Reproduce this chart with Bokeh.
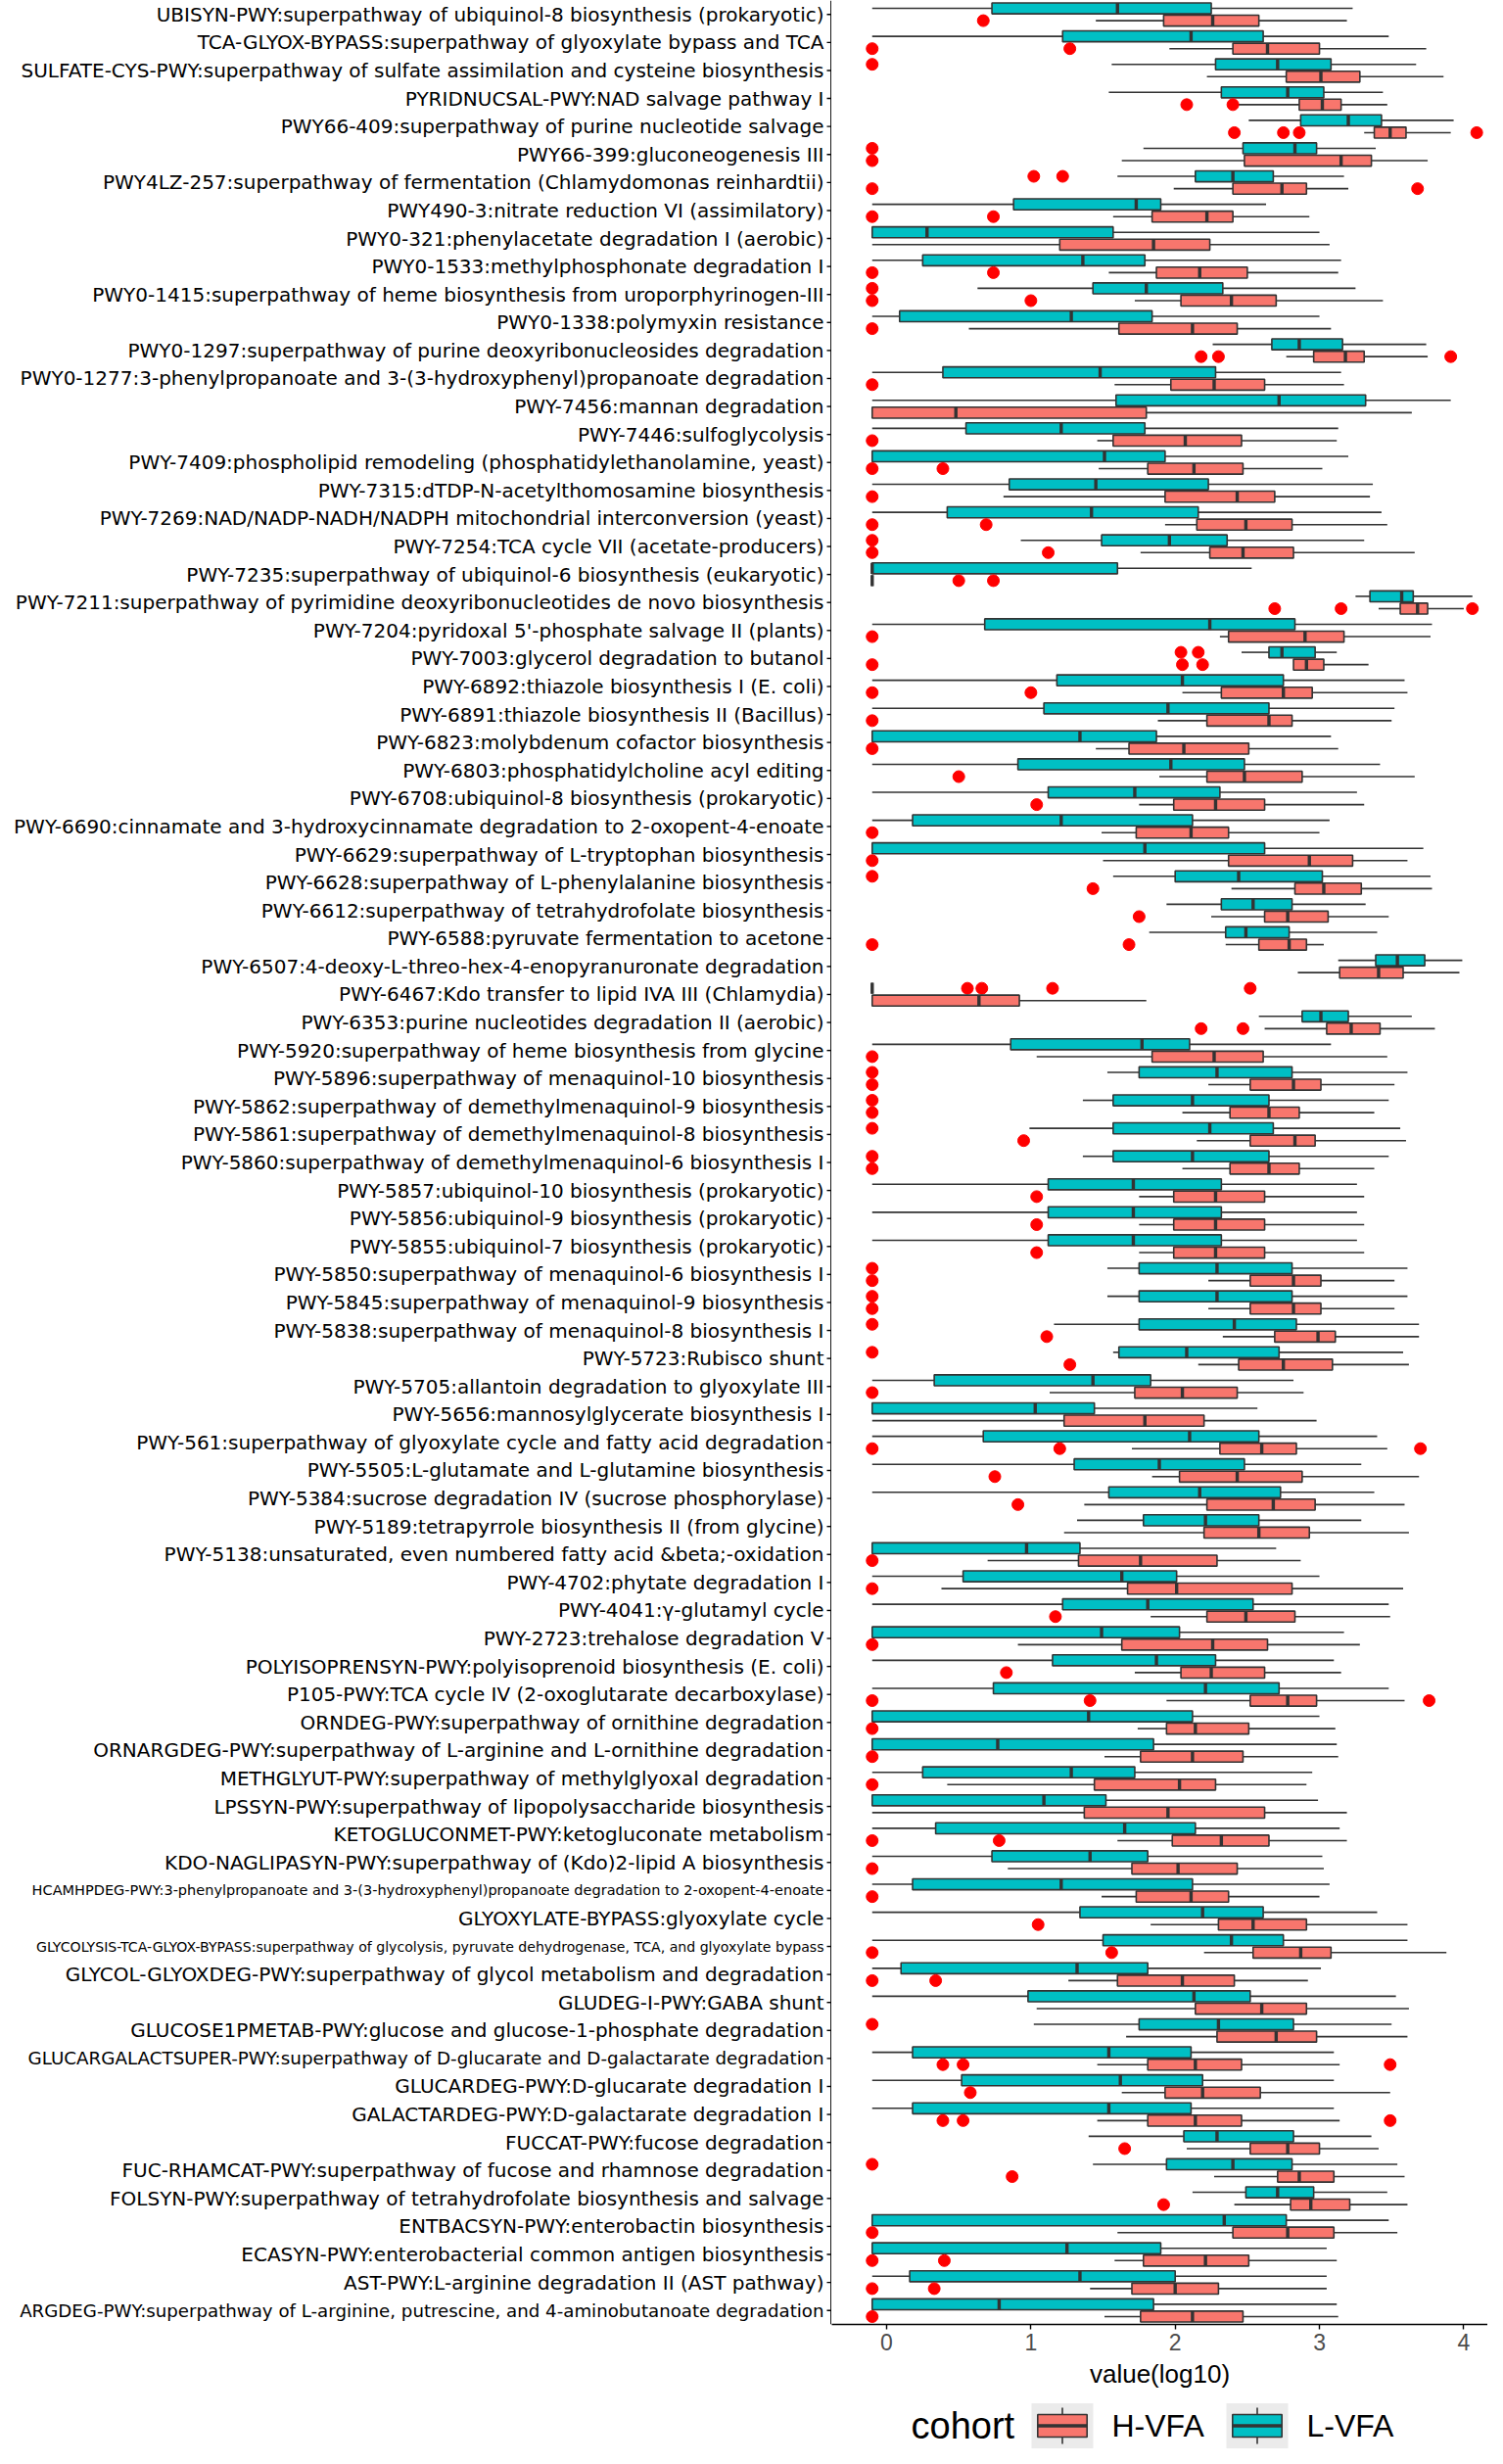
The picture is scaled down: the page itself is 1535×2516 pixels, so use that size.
from bokeh.plotting import figure
from bokeh.models import FactorRange, Range1d, ColumnDataSource, FixedTicker, Span
from bokeh.transform import dodge
from bokeh.layouts import row, column
from bokeh.core.properties import value
from bokeh.embed import file_html
from bokeh.resources import INLINE

# ---------------- data (top to bottom as displayed) ----------------
pathways = [
    "UBISYN-PWY:superpathway of ubiquinol-8 biosynthesis (prokaryotic)",
    "TCA-GLYOX-BYPASS:superpathway of glyoxylate bypass and TCA",
    "SULFATE-CYS-PWY:superpathway of sulfate assimilation and cysteine biosynthesis",
    "PYRIDNUCSAL-PWY:NAD salvage pathway I",
    "PWY66-409:superpathway of purine nucleotide salvage",
    "PWY66-399:gluconeogenesis III",
    "PWY4LZ-257:superpathway of fermentation (Chlamydomonas reinhardtii)",
    "PWY490-3:nitrate reduction VI (assimilatory)",
    "PWY0-321:phenylacetate degradation I (aerobic)",
    "PWY0-1533:methylphosphonate degradation I",
    "PWY0-1415:superpathway of heme biosynthesis from uroporphyrinogen-III",
    "PWY0-1338:polymyxin resistance",
    "PWY0-1297:superpathway of purine deoxyribonucleosides degradation",
    "PWY0-1277:3-phenylpropanoate and 3-(3-hydroxyphenyl)propanoate degradation",
    "PWY-7456:mannan degradation",
    "PWY-7446:sulfoglycolysis",
    "PWY-7409:phospholipid remodeling (phosphatidylethanolamine, yeast)",
    "PWY-7315:dTDP-N-acetylthomosamine biosynthesis",
    "PWY-7269:NAD/NADP-NADH/NADPH mitochondrial interconversion (yeast)",
    "PWY-7254:TCA cycle VII (acetate-producers)",
    "PWY-7235:superpathway of ubiquinol-6 biosynthesis (eukaryotic)",
    "PWY-7211:superpathway of pyrimidine deoxyribonucleotides de novo biosynthesis",
    "PWY-7204:pyridoxal 5'-phosphate salvage II (plants)",
    "PWY-7003:glycerol degradation to butanol",
    "PWY-6892:thiazole biosynthesis I (E. coli)",
    "PWY-6891:thiazole biosynthesis II (Bacillus)",
    "PWY-6823:molybdenum cofactor biosynthesis",
    "PWY-6803:phosphatidylcholine acyl editing",
    "PWY-6708:ubiquinol-8 biosynthesis (prokaryotic)",
    "PWY-6690:cinnamate and 3-hydroxycinnamate degradation to 2-oxopent-4-enoate",
    "PWY-6629:superpathway of L-tryptophan biosynthesis",
    "PWY-6628:superpathway of L-phenylalanine biosynthesis",
    "PWY-6612:superpathway of tetrahydrofolate biosynthesis",
    "PWY-6588:pyruvate fermentation to acetone",
    "PWY-6507:4-deoxy-L-threo-hex-4-enopyranuronate degradation",
    "PWY-6467:Kdo transfer to lipid IVA III (Chlamydia)",
    "PWY-6353:purine nucleotides degradation II (aerobic)",
    "PWY-5920:superpathway of heme biosynthesis from glycine",
    "PWY-5896:superpathway of menaquinol-10 biosynthesis",
    "PWY-5862:superpathway of demethylmenaquinol-9 biosynthesis",
    "PWY-5861:superpathway of demethylmenaquinol-8 biosynthesis",
    "PWY-5860:superpathway of demethylmenaquinol-6 biosynthesis I",
    "PWY-5857:ubiquinol-10 biosynthesis (prokaryotic)",
    "PWY-5856:ubiquinol-9 biosynthesis (prokaryotic)",
    "PWY-5855:ubiquinol-7 biosynthesis (prokaryotic)",
    "PWY-5850:superpathway of menaquinol-6 biosynthesis I",
    "PWY-5845:superpathway of menaquinol-9 biosynthesis",
    "PWY-5838:superpathway of menaquinol-8 biosynthesis I",
    "PWY-5723:Rubisco shunt",
    "PWY-5705:allantoin degradation to glyoxylate III",
    "PWY-5656:mannosylglycerate biosynthesis I",
    "PWY-561:superpathway of glyoxylate cycle and fatty acid degradation",
    "PWY-5505:L-glutamate and L-glutamine biosynthesis",
    "PWY-5384:sucrose degradation IV (sucrose phosphorylase)",
    "PWY-5189:tetrapyrrole biosynthesis II (from glycine)",
    "PWY-5138:unsaturated, even numbered fatty acid &beta;-oxidation",
    "PWY-4702:phytate degradation I",
    "PWY-4041:\u03b3-glutamyl cycle",
    "PWY-2723:trehalose degradation V",
    "POLYISOPRENSYN-PWY:polyisoprenoid biosynthesis (E. coli)",
    "P105-PWY:TCA cycle IV (2-oxoglutarate decarboxylase)",
    "ORNDEG-PWY:superpathway of ornithine degradation",
    "ORNARGDEG-PWY:superpathway of L-arginine and L-ornithine degradation",
    "METHGLYUT-PWY:superpathway of methylglyoxal degradation",
    "LPSSYN-PWY:superpathway of lipopolysaccharide biosynthesis",
    "KETOGLUCONMET-PWY:ketogluconate metabolism",
    "KDO-NAGLIPASYN-PWY:superpathway of (Kdo)2-lipid A biosynthesis",
    "HCAMHPDEG-PWY:3-phenylpropanoate and 3-(3-hydroxyphenyl)propanoate degradation to 2-oxopent-4-enoate",
    "GLYOXYLATE-BYPASS:glyoxylate cycle",
    "GLYCOLYSIS-TCA-GLYOX-BYPASS:superpathway of glycolysis, pyruvate dehydrogenase, TCA, and glyoxylate bypass",
    "GLYCOL-GLYOXDEG-PWY:superpathway of glycol metabolism and degradation",
    "GLUDEG-I-PWY:GABA shunt",
    "GLUCOSE1PMETAB-PWY:glucose and glucose-1-phosphate degradation",
    "GLUCARGALACTSUPER-PWY:superpathway of D-glucarate and D-galactarate degradation",
    "GLUCARDEG-PWY:D-glucarate degradation I",
    "GALACTARDEG-PWY:D-galactarate degradation I",
    "FUCCAT-PWY:fucose degradation",
    "FUC-RHAMCAT-PWY:superpathway of fucose and rhamnose degradation",
    "FOLSYN-PWY:superpathway of tetrahydrofolate biosynthesis and salvage",
    "ENTBACSYN-PWY:enterobactin biosynthesis",
    "ECASYN-PWY:enterobacterial common antigen biosynthesis",
    "AST-PWY:L-arginine degradation II (AST pathway)",
    "ARGDEG-PWY:superpathway of L-arginine, putrescine, and 4-aminobutanoate degradation",
]

groups = ["H-VFA", "L-VFA"]

# L-VFA (teal)
l_lo = [-0.1, -0.1, 1.56, 1.54, 2.51, 1.78, 1.60, -0.1, -0.1, -0.1,
        0.63, -0.1, 2.26, -0.1, -0.1, -0.1, -0.1, -0.1, -0.1, 0.93,
        -0.1, 3.25, -0.1, 2.46, -0.1, -0.1, -0.1, -0.1, -0.1, -0.1,
        -0.1, 1.57, 1.94, 1.82, 3.13, -0.1, 2.58, -0.1, 1.53, 1.36,
        0.99, 1.36, -0.1, -0.1, -0.1, 1.53, 1.53, 1.16, 1.57, -0.1,
        -0.1, -0.1, -0.1, -0.1, 1.32, -0.1, -0.1, -0.1, -0.1, -0.1,
        -0.1, -0.1, -0.1, -0.1, -0.1, -0.1, -0.1, -0.1, -0.1, -0.1,
        -0.1, -0.1, 1.02, -0.1, -0.1, -0.1, 1.40, 1.43, 2.12, -0.1,
        -0.1, -0.1, -0.1]
l_q1 = [0.73, 1.22, 2.28, 2.32, 2.87, 2.47, 2.14, 0.88, -0.1, 0.25,
        1.43, 0.09, 2.67, 0.39, 1.59, 0.55, -0.1, 0.85, 0.42, 1.49,
        -0.1, 3.35, 0.68, 2.65, 1.18, 1.09, -0.1, 0.91, 1.12, 0.18,
        -0.1, 2.00, 2.32, 2.35, 3.39, -0.1, 2.88, 0.86, 1.75, 1.57,
        1.57, 1.57, 1.12, 1.12, 1.12, 1.75, 1.75, 1.75, 1.61, 0.33,
        -0.1, 0.67, 1.30, 1.54, 1.78, -0.1, 0.53, 1.22, -0.1, 1.15,
        0.74, -0.1, -0.1, 0.25, -0.1, 0.34, 0.73, 0.18, 1.34, 1.50,
        0.10, 0.98, 1.75, 0.18, 0.52, 0.18, 2.06, 1.94, 2.49, -0.1,
        -0.1, 0.16, -0.1]
l_med = [1.60, 2.11, 2.71, 2.78, 3.20, 2.83, 2.40, 1.73, 0.28, 1.36,
         1.80, 1.28, 2.86, 1.48, 2.72, 1.21, 1.51, 1.45, 1.42, 1.96,
         -0.1, 3.57, 2.24, 2.74, 2.05, 1.95, 1.34, 1.97, 1.72, 1.21,
         1.79, 2.44, 2.54, 2.49, 3.54, -0.1, 3.01, 1.77, 2.29, 2.12,
         2.24, 2.12, 1.71, 1.71, 1.71, 2.29, 2.29, 2.41, 2.08, 1.43,
         1.03, 2.10, 1.89, 2.17, 2.21, 0.97, 1.63, 1.81, 1.49, 1.87,
         2.21, 1.40, 0.77, 1.28, 1.09, 1.65, 1.41, 1.21, 2.19, 2.39,
         1.32, 2.13, 2.30, 1.54, 1.62, 1.54, 2.29, 2.40, 2.71, 2.34,
         1.25, 1.34, 0.78]
l_q3 = [2.25, 2.61, 3.08, 3.03, 3.43, 2.98, 2.68, 1.90, 1.57, 1.79,
        2.33, 1.84, 3.16, 2.28, 3.32, 1.79, 1.93, 2.23, 2.16, 2.36,
        1.60, 3.65, 2.83, 2.97, 2.75, 2.65, 1.87, 2.48, 2.31, 2.12,
        2.62, 3.02, 2.81, 2.79, 3.73, -0.1, 3.20, 2.10, 2.81, 2.65,
        2.68, 2.65, 2.32, 2.32, 2.32, 2.81, 2.81, 2.84, 2.72, 1.83,
        1.44, 2.58, 2.48, 2.73, 2.58, 1.34, 2.01, 2.54, 2.03, 2.28,
        2.72, 2.12, 1.85, 1.72, 1.52, 2.14, 1.81, 2.12, 2.61, 2.75,
        1.81, 2.52, 2.82, 2.11, 2.19, 2.11, 2.82, 2.81, 2.96, 2.77,
        1.90, 2.00, 1.85]
l_hi = [3.23, 3.48, 3.67, 3.44, 3.93, 3.39, 3.17, 2.63, 3.00, 3.15,
        3.25, 3.00, 3.74, 3.15, 3.91, 3.13, 3.20, 3.37, 3.43, 3.31,
        2.53, 4.06, 3.78, 3.12, 3.59, 3.52, 3.08, 3.42, 3.26, 3.07,
        3.72, 3.77, 3.32, 3.40, 3.99, -0.1, 3.64, 3.08, 3.61, 3.48,
        3.56, 3.48, 3.26, 3.26, 3.26, 3.61, 3.61, 3.69, 3.58, 2.82,
        2.57, 3.40, 3.29, 3.38, 3.29, 2.70, 3.00, 3.48, 3.17, 3.10,
        3.48, 3.00, 3.12, 2.95, 2.99, 3.14, 3.02, 3.07, 3.40, 3.61,
        3.01, 3.53, 3.50, 3.10, 3.10, 3.10, 3.36, 3.54, 3.47, 3.48,
        3.05, 3.05, 3.12]
l_out = [[], [], [-0.1], [], [], [-0.1], [1.02, 1.22], [], [], [],
         [-0.1], [], [], [], [], [], [], [], [], [-0.1],
         [], [], [], [2.04, 2.16], [], [], [], [], [], [],
         [], [-0.1], [], [], [], [0.56, 0.66, 1.15, 2.52], [], [], [-0.1], [-0.1],
         [-0.1], [-0.1], [], [], [], [-0.1], [-0.1], [-0.1], [-0.1], [],
         [], [], [], [], [], [], [], [], [], [],
         [], [], [], [], [], [], [], [], [], [],
         [], [], [-0.1], [], [], [], [], [-0.1], [], [],
         [], [], []]

# H-VFA (salmon)
h_lo = [1.45, 1.96, 2.22, 2.44, 3.31, 1.63, 1.99, 1.57, -0.1, 1.54,
        1.72, 0.57, 2.77, 1.58, -0.1, 1.46, 1.47, 0.81, 1.93, 1.76,
        -0.1, 3.41, 2.31, 2.82, 2.05, 1.88, 1.45, 1.89, 1.75, 1.49,
        1.50, 2.39, 2.25, 2.35, 2.85, -0.1, 2.62, 1.04, 2.23, 2.05,
        2.15, 2.05, 1.75, 1.75, 1.75, 2.23, 2.23, 2.33, 2.16, 1.13,
        -0.1, 1.70, 1.84, 1.37, 1.23, 0.70, 0.38, 1.83, 0.91, 1.72,
        1.94, 1.74, 1.51, 0.42, -0.1, 1.60, 0.84, 1.49, 1.83, 2.20,
        1.26, 1.04, 1.66, 1.46, 1.63, 1.46, 2.08, 2.27, 2.41, 1.60,
        1.58, 1.41, 1.51]
h_q1 = [1.92, 2.40, 2.77, 2.86, 3.38, 2.48, 2.40, 1.84, 1.20, 1.87,
        2.04, 1.61, 2.96, 1.97, -0.1, 1.57, 1.81, 1.93, 2.15, 2.24,
        -0.1, 3.56, 2.37, 2.82, 2.32, 2.22, 1.68, 2.22, 1.99, 1.73,
        2.37, 2.83, 2.62, 2.58, 3.14, -0.1, 3.05, 1.84, 2.52, 2.38,
        2.52, 2.38, 1.99, 1.99, 1.99, 2.52, 2.52, 2.69, 2.44, 1.72,
        1.23, 2.31, 2.03, 2.22, 2.20, 1.33, 1.67, 2.22, 1.63, 2.04,
        2.52, 1.94, 1.76, 1.44, 1.37, 1.98, 1.70, 1.73, 2.30, 2.54,
        1.60, 2.14, 2.29, 1.81, 1.93, 1.81, 2.52, 2.71, 2.80, 2.40,
        1.78, 1.70, 1.76]
h_med = [2.26, 2.64, 3.01, 3.02, 3.49, 3.15, 2.74, 2.22, 1.85, 2.17,
         2.39, 2.12, 3.18, 2.27, 0.48, 2.07, 2.13, 2.43, 2.49, 2.47,
         -0.1, 3.68, 2.90, 2.91, 2.75, 2.65, 2.06, 2.48, 2.28, 2.11,
         2.93, 3.03, 2.78, 2.79, 3.41, 0.64, 3.22, 2.27, 2.82, 2.65,
         2.83, 2.65, 2.28, 2.28, 2.28, 2.82, 2.82, 2.99, 2.75, 2.05,
         1.79, 2.60, 2.43, 2.68, 2.58, 1.76, 2.01, 2.49, 2.26, 2.25,
         2.78, 2.14, 2.12, 2.03, 1.95, 2.32, 2.02, 2.11, 2.54, 2.87,
         2.05, 2.60, 2.70, 2.14, 2.19, 2.14, 2.78, 2.86, 2.94, 2.78,
         2.21, 2.00, 2.12]
h_q3 = [2.58, 3.00, 3.28, 3.15, 3.60, 3.36, 2.91, 2.40, 2.24, 2.50,
        2.70, 2.43, 3.31, 2.62, 1.80, 2.46, 2.47, 2.69, 2.81, 2.82,
        -0.1, 3.75, 3.17, 3.03, 2.95, 2.81, 2.51, 2.88, 2.62, 2.37,
        3.23, 3.29, 3.06, 2.91, 3.58, 0.92, 3.42, 2.61, 3.01, 2.86,
        2.97, 2.86, 2.62, 2.62, 2.62, 3.01, 3.01, 3.11, 3.09, 2.43,
        2.20, 2.84, 2.88, 2.97, 2.93, 2.29, 2.81, 2.83, 2.64, 2.62,
        2.98, 2.51, 2.47, 2.28, 2.62, 2.65, 2.43, 2.37, 2.91, 3.08,
        2.41, 2.91, 2.98, 2.46, 2.59, 2.46, 3.00, 3.10, 3.21, 3.10,
        2.51, 2.30, 2.47]
h_hi = [3.19, 3.74, 3.86, 3.47, 3.91, 3.75, 3.20, 2.93, 3.07, 3.13,
        3.44, 3.08, 3.75, 3.17, 3.64, 3.12, 3.02, 3.35, 3.47, 3.66,
        -0.1, 4.00, 3.77, 3.34, 3.61, 3.50, 3.13, 3.66, 3.31, 3.00,
        3.61, 3.78, 3.48, 3.03, 3.97, 1.80, 3.80, 3.47, 3.52, 3.38,
        3.60, 3.38, 3.31, 3.31, 3.31, 3.52, 3.52, 3.69, 3.62, 2.89,
        2.98, 3.47, 3.69, 3.59, 3.62, 2.87, 3.58, 3.49, 3.28, 3.15,
        3.59, 3.11, 3.13, 2.91, 3.19, 3.19, 3.03, 3.00, 3.61, 3.88,
        2.92, 3.62, 3.61, 3.14, 3.49, 3.14, 3.41, 3.59, 3.61, 3.54,
        3.12, 3.05, 3.13]
h_out = [[0.67], [-0.1, 1.27], [], [2.08, 2.40], [2.41, 2.75, 2.86, 4.09], [-0.1], [-0.1, 3.68], [-0.1, 0.74], [], [-0.1, 0.74],
         [-0.1, 1.00], [-0.1], [2.18, 2.30, 3.91], [-0.1], [], [-0.1], [-0.1, 0.39], [-0.1], [-0.1, 0.69], [-0.1, 1.12],
         [0.50, 0.74], [2.69, 3.15, 4.06], [-0.1], [-0.1, 2.05, 2.19], [-0.1, 1.00], [-0.1], [-0.1], [0.50], [1.04], [-0.1],
         [-0.1], [1.43], [1.75], [-0.1, 1.68], [], [], [2.18, 2.47], [-0.1], [-0.1], [-0.1],
         [0.95], [-0.1], [1.04], [1.04], [1.04], [-0.1], [-0.1], [1.11], [1.27], [-0.1],
         [], [-0.1, 1.20, 3.70], [0.75], [0.91], [], [-0.1], [-0.1], [1.17], [-0.1], [0.83],
         [-0.1, 1.41, 3.76], [-0.1], [-0.1], [-0.1], [], [-0.1, 0.78], [-0.1], [-0.1], [1.05], [-0.1, 1.56],
         [-0.1, 0.34], [], [], [0.39, 0.53, 3.49], [0.58], [0.39, 0.53, 3.49], [1.65], [0.87], [1.92], [-0.1],
         [-0.1, 0.40], [-0.1, 0.33], [-0.1]]

x_ticks = [0, 1, 2, 3, 4]
x_title = "value(log10)"
legend_title = "cohort"

# ---------------- styling ----------------
TEAL = "#00BFC4"
SALMON = "#F8766D"
EDGE = "#333333"
LABEL_FONT = "DejaVu Sans"
AX_FONT = "Liberation Sans"
label_size_override = {
    "HCAMHPDEG-PWY:3-phenylpropanoate and 3-(3-hydroxyphenyl)propanoate degradation to 2-oxopent-4-enoate": "14.5px",
    "GLYCOLYSIS-TCA-GLYOX-BYPASS:superpathway of glycolysis, pyruvate dehydrogenase, TCA, and glyoxylate bypass": "14.1px",
    "GLUCARGALACTSUPER-PWY:superpathway of D-glucarate and D-galactarate degradation": "18.3px",
    "ARGDEG-PWY:superpathway of L-arginine, putrescine, and 4-aminobutanoate degradation": "18.2px",
}

factors = list(reversed(pathways))   # first factor at the bottom
yr = FactorRange(factors=factors)

FRAME_H = 2373
BOTTOM = 80
FIG_H = FRAME_H + BOTTOM
LABEL_W = 849
MAIN_W = 670
PX_PER_UNIT = 147.35
X0_PIX = 56           # pixel distance from left frame edge to value 0
x_start = -X0_PIX / PX_PER_UNIT
x_end = (MAIN_W - X0_PIX) / PX_PER_UNIT

p = figure(width=MAIN_W, height=FIG_H, y_range=yr, x_range=Range1d(x_start, x_end),
           output_backend="svg", toolbar_location=None,
           min_border_left=0, min_border_right=0, min_border_top=0, min_border_bottom=BOTTOM)
p.outline_line_color = None
p.grid.visible = False
p.yaxis.visible = False

# boxplots
specs = [
    (l_lo, l_q1, l_med, l_q3, l_hi, l_out, TEAL, 0.22),
    (h_lo, h_q1, h_med, h_q3, h_hi, h_out, SALMON, -0.22),
]
BOX_H = 0.39
for lo, q1, med, q3, hi, outs, col, off in specs:
    src = ColumnDataSource(dict(cat=pathways, lo=lo, q1=q1, med=med, q3=q3, hi=hi))
    yc = dodge("cat", off, range=yr)
    p.segment(x0="lo", x1="q1", y0=yc, y1=yc, source=src, line_color=EDGE, line_width=1.6)
    p.segment(x0="q3", x1="hi", y0=yc, y1=yc, source=src, line_color=EDGE, line_width=1.6)
    p.hbar(y=yc, left="q1", right="q3", height=BOX_H, source=src,
           fill_color=col, line_color=EDGE, line_width=1.6)
    p.segment(x0="med", x1="med", y0=dodge("cat", off - BOX_H / 2, range=yr),
              y1=dodge("cat", off + BOX_H / 2, range=yr), source=src,
              line_color=EDGE, line_width=3.4)
    oc, ov = [], []
    for c, vals in zip(pathways, outs):
        for v in vals:
            oc.append(c)
            ov.append(v)
    osrc = ColumnDataSource(dict(cat=oc, val=ov))
    p.scatter(x="val", y=yc, source=osrc, size=12, fill_color="red", line_color="red")

# x axis
p.xaxis.ticker = FixedTicker(ticks=x_ticks)
p.xaxis.axis_label = x_title
p.xaxis.axis_label_text_font = AX_FONT
p.xaxis.axis_label_text_font_size = "26px"
p.xaxis.axis_label_text_font_style = "normal"
p.xaxis.axis_label_text_color = "black"
p.xaxis.axis_label_standoff = 6
p.xaxis.major_label_text_font = AX_FONT
p.xaxis.major_label_text_font_size = "23px"
p.xaxis.major_label_text_color = "#4D4D4D"
p.xaxis.major_label_standoff = 4
p.xaxis.minor_tick_line_color = None
p.xaxis.axis_line_color = "black"
p.xaxis.axis_line_width = 1.4
p.xaxis.major_tick_line_color = "black"
p.xaxis.major_tick_line_width = 1.4
p.xaxis.major_tick_out = 5
p.xaxis.major_tick_in = 0

# label panel (category names, y ticks and y axis line)
lf = figure(width=LABEL_W, height=FIG_H, y_range=yr, x_range=Range1d(0, LABEL_W),
            output_backend="svg", toolbar_location=None,
            min_border_left=0, min_border_right=0, min_border_top=0, min_border_bottom=BOTTOM)
lf.axis.visible = False
lf.grid.visible = False
lf.outline_line_color = None
lsrc = ColumnDataSource(dict(cat=pathways, label=pathways,
                             fs=[label_size_override.get(s, "20px") for s in pathways]))
lf.text(x=LABEL_W - 8, y="cat", text="label", source=lsrc, text_align="right",
        text_baseline="middle", text_font=value(LABEL_FONT), text_font_size="fs",
        text_color="black")
lf.segment(x0=LABEL_W - 5, x1=LABEL_W, y0="cat", y1="cat", source=lsrc,
           line_color="black", line_width=1.4)
lf.add_layout(Span(location=LABEL_W - 0.7, dimension="height", line_color="black", line_width=1.4))

# legend panel
LG_W, LG_H = LABEL_W + MAIN_W, 47
lg = figure(width=LG_W, height=LG_H, x_range=Range1d(0, LG_W), y_range=Range1d(0, LG_H),
            output_backend="svg", toolbar_location=None, min_border=0)
lg.axis.visible = False
lg.grid.visible = False
lg.outline_line_color = None
YC = 23.5
lg.text(x=930, y=YC, text=[legend_title], text_align="left", text_baseline="middle",
        text_font=value(AX_FONT), text_font_size="38px", text_color="black")
key_x = {"H-VFA": 1053, "L-VFA": 1252}
key_col = {"H-VFA": SALMON, "L-VFA": TEAL}
KW, KH = 63, 46
for g in groups:
    x0 = key_x[g]
    kb = YC - KH / 2
    lg.quad(left=x0, right=x0 + KW, bottom=kb, top=kb + KH, fill_color="#EBEBEB", line_color=None)
    lg.segment(x0=x0 + KW / 2, x1=x0 + KW / 2, y0=kb + 0.1 * KH, y1=kb + 0.9 * KH,
               line_color=EDGE, line_width=1.6)
    lg.quad(left=x0 + 0.1 * KW, right=x0 + 0.9 * KW, bottom=kb + 0.25 * KH, top=kb + 0.75 * KH,
            fill_color=key_col[g], line_color=EDGE, line_width=1.6)
    lg.segment(x0=x0 + 0.1 * KW, x1=x0 + 0.9 * KW, y0=YC, y1=YC, line_color=EDGE, line_width=3.4)
    lg.text(x=x0 + 82, y=YC, text=[g], text_align="left", text_baseline="middle",
            text_font=value(AX_FONT), text_font_size="32px", text_color="black")

layout = column(row(lf, p), lg)
open("out.html", "w").write(file_html(layout, INLINE))
